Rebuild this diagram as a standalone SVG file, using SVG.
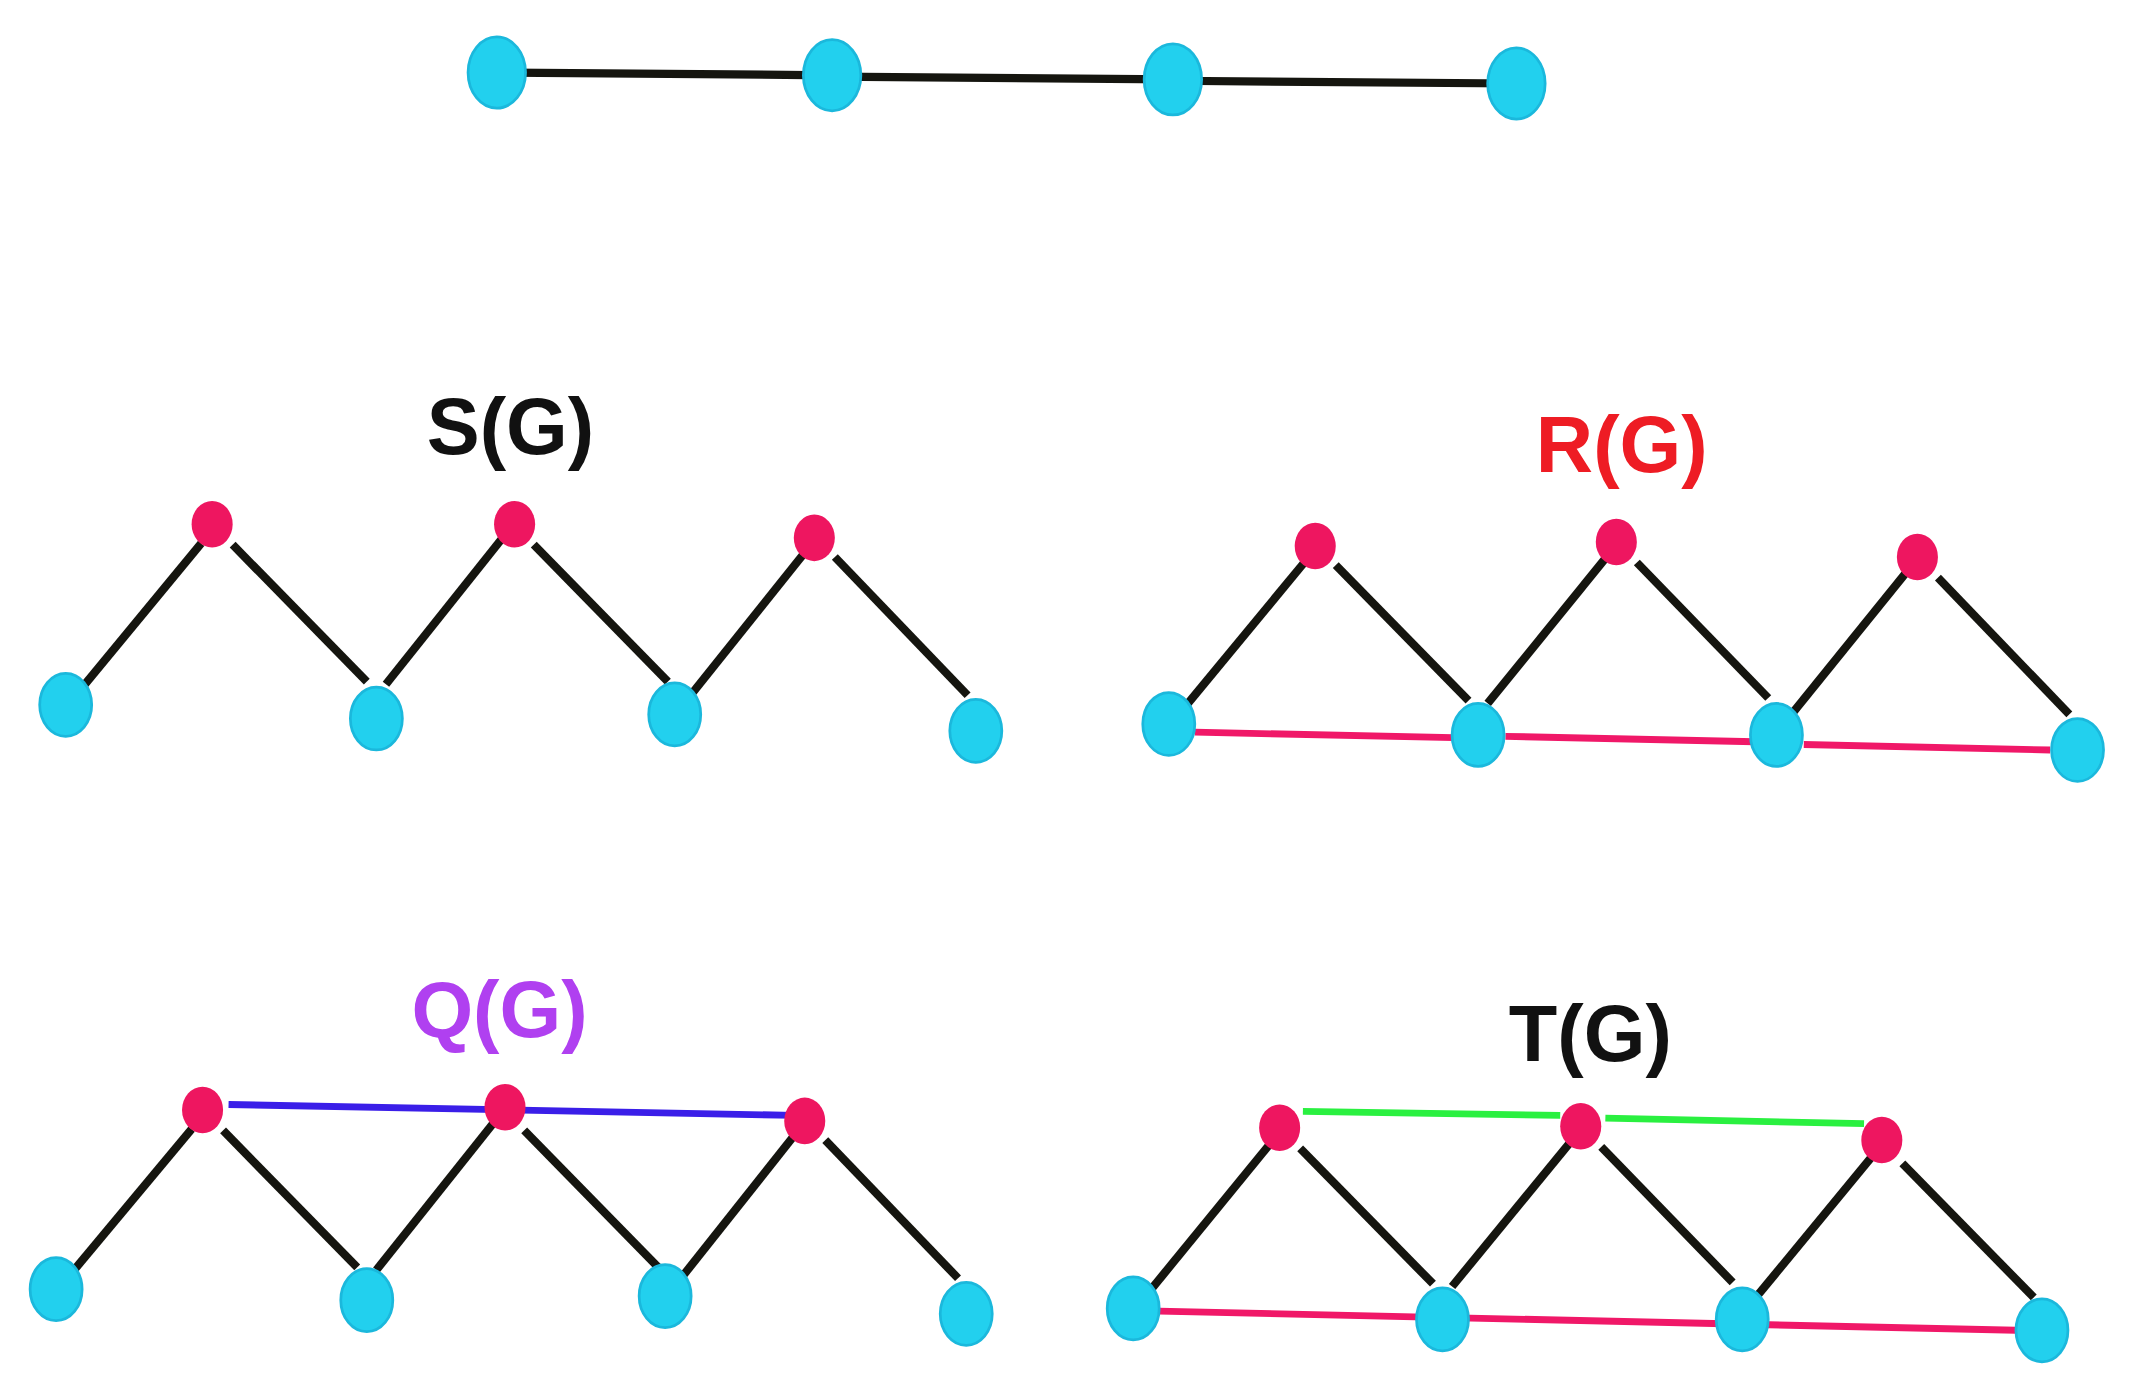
<svg xmlns="http://www.w3.org/2000/svg" width="2135" height="1386" viewBox="0 0 2135 1386">
<style>
.c{fill:#22d0ee;stroke:#1bb8dc;stroke-width:2}
.r{fill:#ee1660}
.e{stroke:#15150f;stroke-width:6;fill:none}
.p{stroke:#f01868;stroke-width:5}
.b{stroke:#3a1ee8;stroke-width:5}
.g{stroke:#2af040;stroke-width:5}
.t{font-family:"Liberation Sans Narrow","Liberation Sans",sans-serif;font-weight:bold;font-size:58px;text-anchor:middle}
</style>
<rect width="2135" height="1386" fill="#fff"/>
<g transform="scale(1.3686)">
<g id="connectors">
<line class="e" x1="363" y1="53" x2="608" y2="55"/><line class="e" x1="608" y1="56" x2="857" y2="58"/><line class="e" x1="857" y1="59" x2="1108" y2="61"/>
<line class="e" x1="62" y1="500" x2="147" y2="397"/><line class="e" x1="170" y1="398" x2="268" y2="498"/><line class="e" x1="282" y1="500" x2="368" y2="392"/><line class="e" x1="390" y1="398" x2="488" y2="498"/><line class="e" x1="503" y1="510" x2="587" y2="405"/><line class="e" x1="610" y1="407" x2="707" y2="508"/>
<line class="e" x1="868" y1="514" x2="953" y2="411"/><line class="e" x1="976" y1="413" x2="1073" y2="512"/><line class="e" x1="1087" y1="514" x2="1173" y2="408"/><line class="e" x1="1196" y1="411" x2="1292" y2="510"/><line class="e" x1="1309" y1="522" x2="1393" y2="418"/><line class="e" x1="1416" y1="422" x2="1512" y2="522"/>
<line class="p" x1="873" y1="535" x2="1062" y2="539"/><line class="p" x1="1100" y1="538" x2="1282" y2="542"/><line class="p" x1="1318" y1="544" x2="1498" y2="548"/>
<line class="e" x1="55" y1="927" x2="140" y2="825"/><line class="e" x1="163" y1="826" x2="261" y2="926"/><line class="e" x1="275" y1="928" x2="361" y2="820"/><line class="e" x1="383" y1="826" x2="481" y2="926"/><line class="e" x1="496" y1="936" x2="580" y2="830"/><line class="e" x1="603" y1="833" x2="700" y2="934"/>
<line class="b" x1="167" y1="807" x2="580" y2="815"/>
<line class="e" x1="842" y1="941" x2="927" y2="837"/><line class="e" x1="950" y1="839" x2="1047" y2="938"/><line class="e" x1="1061" y1="940" x2="1147" y2="835"/><line class="e" x1="1170" y1="838" x2="1266" y2="937"/><line class="e" x1="1283" y1="948" x2="1367" y2="846"/><line class="e" x1="1390" y1="850" x2="1486" y2="948"/>
<line class="g" x1="952" y1="812" x2="1140" y2="815"/><line class="g" x1="1173" y1="817" x2="1362" y2="821"/>
<line class="p" x1="847" y1="958" x2="1473" y2="972"/>
</g>
<g id="top-graph"><ellipse class="c" cx="363" cy="53" rx="21" ry="26"/><ellipse class="c" cx="608" cy="55" rx="21" ry="26"/><ellipse class="c" cx="857" cy="58" rx="21" ry="26"/><ellipse class="c" cx="1108" cy="61" rx="21" ry="26"/></g>
<g id="S"><text class="t" x="373" y="332" fill="#111">S(G)</text>
<ellipse class="c" cx="48" cy="515" rx="19" ry="23"/><ellipse class="c" cx="275" cy="525" rx="19" ry="23"/><ellipse class="c" cx="493" cy="522" rx="19" ry="23"/><ellipse class="c" cx="713" cy="534" rx="19" ry="23"/>
<ellipse class="r" cx="155" cy="383" rx="15" ry="17"/><ellipse class="r" cx="376" cy="383" rx="15" ry="17"/><ellipse class="r" cx="595" cy="393" rx="15" ry="17"/></g>
<g id="R"><text class="t" x="1185" y="345" fill="#ee1c24">R(G)</text>
<ellipse class="c" cx="854" cy="529" rx="19" ry="23"/><ellipse class="c" cx="1080" cy="537" rx="19" ry="23"/><ellipse class="c" cx="1298" cy="537" rx="19" ry="23"/><ellipse class="c" cx="1518" cy="548" rx="19" ry="23"/>
<ellipse class="r" cx="961" cy="399" rx="15" ry="17"/><ellipse class="r" cx="1181" cy="396" rx="15" ry="17"/><ellipse class="r" cx="1401" cy="407" rx="15" ry="17"/></g>
<g id="Q"><text class="t" x="365" y="758" fill="#b040f0">Q(G)</text>
<ellipse class="c" cx="41" cy="942" rx="19" ry="23"/><ellipse class="c" cx="268" cy="950" rx="19" ry="23"/><ellipse class="c" cx="486" cy="947" rx="19" ry="23"/><ellipse class="c" cx="706" cy="960" rx="19" ry="23"/>
<ellipse class="r" cx="148" cy="811" rx="15" ry="17"/><ellipse class="r" cx="369" cy="809" rx="15" ry="17"/><ellipse class="r" cx="588" cy="819" rx="15" ry="17"/></g>
<g id="T"><text class="t" x="1162" y="775" fill="#111">T(G)</text>
<ellipse class="c" cx="828" cy="956" rx="19" ry="23"/><ellipse class="c" cx="1054" cy="964" rx="19" ry="23"/><ellipse class="c" cx="1273" cy="964" rx="19" ry="23"/><ellipse class="c" cx="1492" cy="972" rx="19" ry="23"/>
<ellipse class="r" cx="935" cy="824" rx="15" ry="17"/><ellipse class="r" cx="1155" cy="823" rx="15" ry="17"/><ellipse class="r" cx="1375" cy="833" rx="15" ry="17"/></g>
</g>
</svg>
